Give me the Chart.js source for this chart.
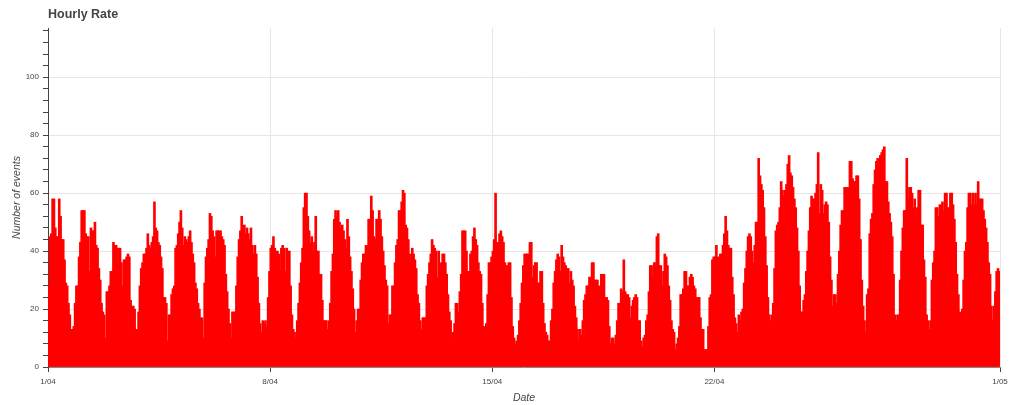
<!DOCTYPE html>
<html>
<head>
<meta charset="utf-8">
<script src="https://cdn.jsdelivr.net/npm/chart.js@4.4.1/dist/chart.umd.min.js"></script>
<style>
  html, body { margin: 0; padding: 0; background: #fff; }
  #wrap { position: relative; width: 1024px; height: 405px; }
  #chart { display: block; }
  #title {
    position: absolute; left: 48px; top: 8px;
    font: bold 12.5px "Liberation Sans", Arial, sans-serif;
    line-height: 13px; color: #444;
  }
</style>
</head>
<body>
<div id="wrap">
  <canvas id="chart" width="1024" height="405"></canvas>
  <div id="title">Hourly Rate</div>
</div>
<script>
// Events per hour, 1 April 00:00 to 30 April 23:00 (one row per day)
const hourlyEvents = [
  28,45,46,58,58,48,45,45,58,52,44,44,37,29,28,22,18,13,13,14,22,28,28,38, // 1/04
  43,54,54,54,46,45,45,33,48,47,47,50,42,41,34,30,22,19,18,10,26,26,28,33,
  33,43,42,42,41,41,41,36,28,37,37,38,39,38,23,21,21,20,13,13,19,28,34,36,
  39,39,41,46,42,41,43,45,57,48,47,43,42,38,34,24,24,22,9,18,18,25,27,28,
  41,42,46,50,54,48,42,45,44,43,45,47,43,39,36,29,27,22,20,17,17,10,29,38,
  41,44,53,52,47,45,38,47,47,47,47,45,44,42,32,26,20,15,10,19,19,19,28,38,
  44,47,52,48,49,46,48,46,44,48,42,39,42,39,31,22,15,12,16,15,16,14,24,33,
  41,42,45,41,40,40,39,33,41,42,41,33,41,40,40,28,18,13,12,10,16,22,29,36, // 8/04
  41,55,60,60,52,47,43,45,40,43,52,40,40,32,32,23,16,16,16,13,16,22,33,39,
  51,54,52,54,50,48,49,47,44,41,51,45,38,33,27,20,12,16,20,20,30,36,39,39,
  42,42,51,51,59,54,45,44,51,51,54,51,45,40,35,30,28,15,18,18,28,28,36,42,
  44,54,54,57,61,60,49,48,44,39,36,41,39,37,34,25,22,16,13,17,17,17,28,32,
  36,39,44,42,41,40,31,40,34,36,39,39,36,32,25,19,16,10,12,15,22,22,19,26,
  32,47,47,47,40,33,33,39,40,45,48,44,42,36,33,32,22,14,9,15,25,36,36,38,
  40,44,60,43,43,46,47,45,43,36,35,35,36,36,24,14,10,8,9,11,16,22,29,35, // 15/04
  39,39,39,39,43,43,31,35,36,36,29,29,33,33,22,15,12,11,9,9,16,20,29,33,
  37,39,38,33,42,38,36,35,34,34,29,33,30,28,21,17,13,9,13,11,16,23,25,28,
  28,31,31,36,36,30,30,30,28,26,32,32,32,24,24,23,14,8,10,10,8,11,16,22,
  22,27,26,37,26,25,25,24,17,21,23,24,25,24,16,16,9,7,10,11,16,18,26,35,
  35,31,36,36,45,46,35,35,28,33,39,38,35,28,23,16,13,12,6,8,10,14,25,25,
  27,33,33,28,28,31,32,31,28,27,24,24,24,17,13,13,6,6,6,14,24,25,37,38,
  38,42,38,37,39,39,42,46,52,47,42,41,41,31,25,17,15,12,18,16,19,20,29,34, // 22/04
  40,45,46,45,40,36,42,50,50,72,66,63,61,55,45,35,24,18,16,18,22,34,47,49,
  50,55,64,61,59,61,63,70,73,67,66,62,58,55,48,40,28,19,19,23,25,33,40,47,
  55,59,58,58,60,63,74,53,63,61,53,56,57,56,50,38,30,21,25,25,22,32,40,49,
  54,54,62,62,62,62,71,71,65,64,64,66,66,58,44,30,21,16,12,25,27,46,51,53,
  63,68,71,72,72,73,74,75,76,64,64,57,53,50,45,32,18,16,18,18,30,40,48,54,
  54,72,58,62,62,60,55,58,52,55,61,61,49,49,37,31,18,16,13,16,30,36,40,55,
  55,52,56,56,57,54,60,60,55,55,60,60,56,51,43,32,25,19,16,20,30,40,43,55,
  60,60,56,60,56,60,56,64,58,58,58,54,51,48,43,36,32,21,16,21,26,33,34,33
];

// x axis: hours since 1/04 00:00
const tickHours = [0, 168, 336, 504, 720];
const tickLabels = ['1/04', '8/04', '15/04', '22/04', '1/05'];

// y axis: minor ticks every 4, labels every 20
const yTicks = [0,4,8,12,16,20,24,28,32,36,40,44,48,52,56,60,64,68,72,76,80,84,88,92,96,100,104,108,112,116];
const yLabelled = [0, 20, 40, 60, 80, 100];

const tickFont = { family: '"Liberation Sans", Arial, sans-serif', size: 8 };
const titleFont = { family: '"Liberation Sans", Arial, sans-serif', size: 10.5, style: 'italic' };

const ctx = document.getElementById('chart').getContext('2d');

new Chart(ctx, {
    type: 'bar',
    data: {
        datasets: [{
            data: hourlyEvents.map((v, i) => ({ x: i + 0.5, y: v })),
            backgroundColor: '#ff0000',
            borderWidth: 0,
            barThickness: 2
        }]
    },
    options: {
        responsive: false,
        animation: false,
        layout: { padding: { top: 28, right: 24, bottom: 0, left: 0 } },
        plugins: {
            legend: { display: false },
            tooltip: { enabled: false },
            title: { display: false }
        },
        scales: {
            x: {
                type: 'linear',
                min: 0,
                max: 720,
                offset: false,
                afterBuildTicks: s => { s.ticks = tickHours.map(v => ({ value: v })); },
                afterFit: s => { s.height = 38; },
                ticks: {
                    autoSkip: false,
                    maxRotation: 0,
                    padding: 5,
                    color: '#444',
                    font: tickFont,
                    callback: (v, i) => tickLabels[i]
                },
                grid: { offset: false, color: '#e6e6e6', tickColor: '#444', tickLength: 5 },
                border: { color: '#888', width: 1 },
                title: {
                    display: true,
                    text: 'Date',
                    color: '#444',
                    font: titleFont,
                    padding: { top: 0, bottom: 1 }
                }
            },
            y: {
                min: 0,
                max: 117,
                afterBuildTicks: s => { s.ticks = yTicks.map(v => ({ value: v })); },
                afterFit: s => { s.width = 48; },
                ticks: {
                    autoSkip: false,
                    padding: 4,
                    color: '#444',
                    font: tickFont,
                    callback: v => yLabelled.includes(v) ? String(v) : ''
                },
                grid: {
                    color: c => (c.tick && c.tick.value > 0 && yLabelled.includes(c.tick.value)) ? '#e6e6e6' : 'rgba(0,0,0,0)',
                    tickColor: '#444',
                    tickLength: 5
                },
                border: { color: '#444', width: 1 },
                title: {
                    display: true,
                    text: 'Number of events',
                    color: '#444',
                    font: titleFont,
                    padding: { top: 11, bottom: 0 }
                }
            }
        }
    }
});
</script>
</body>
</html>
